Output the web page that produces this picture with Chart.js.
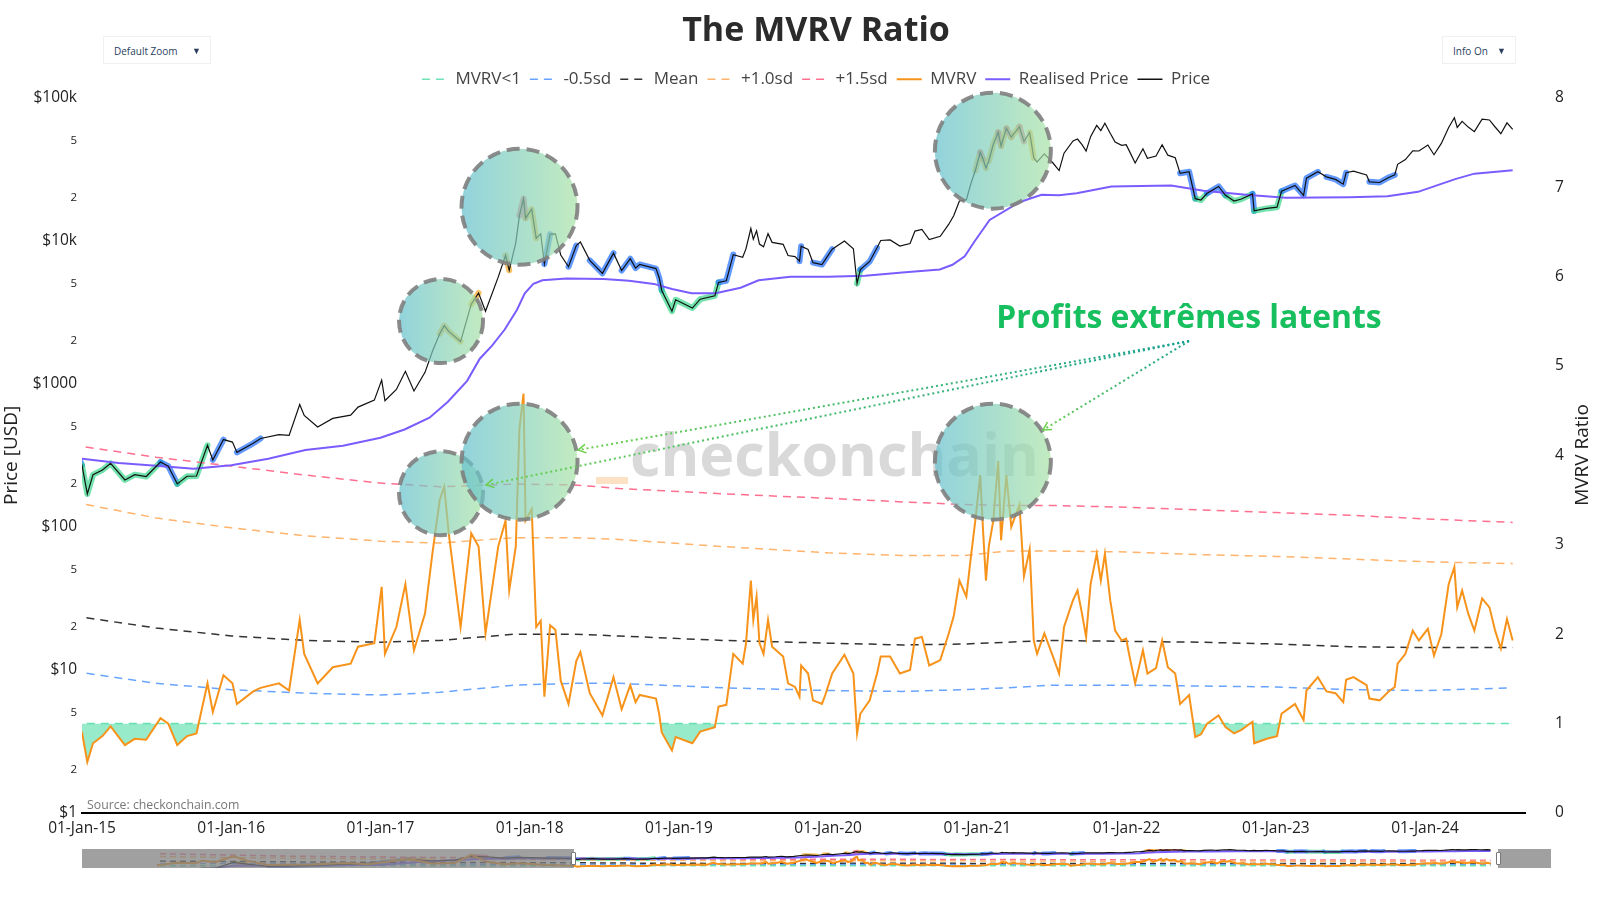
<!DOCTYPE html>
<html>
<head>
<meta charset="utf-8">
<title>The MVRV Ratio</title>
<script src="https://cdn.jsdelivr.net/npm/chart.js@4.4.1/dist/chart.umd.min.js"></script>
<style>
  body { margin: 0; background: #fff; font-family: "Open Sans", sans-serif; }
  #wrap { position: relative; width: 1600px; height: 900px; overflow: hidden; }
  #main { position: absolute; left: 0; top: 0; }
  #mini { position: absolute; left: 82px; top: 849px; }
  .shade { position: absolute; top: 849px; height: 19px; background: rgba(128,128,128,0.75); }
  .handle { position: absolute; top: 852px; width: 3px; height: 11px; background: #fff; border: 1px solid #777; border-radius: 1px; }
  .dd { position: absolute; top: 36px; height: 28px; line-height: 28px; font-size: 10px; color: #2a3f5f;
        background: #fff; border: 1px solid #f0f0f0; box-sizing: border-box; padding-left: 10px; }
  .dd span { position: absolute; right: 9px; top: 0; font-size: 9px; }
</style>
</head>
<body>
<div id="wrap">
  <canvas id="main" width="1600" height="900"></canvas>
  <canvas id="mini" width="1469" height="19"></canvas>
  <div class="shade" style="left:82px;width:492px"></div>
  <div class="shade" style="left:1498px;width:53px"></div>
  <div class="handle" style="left:571px"></div>
  <div class="handle" style="left:1496px"></div>
  <div class="dd" style="left:103px;width:108px">Default Zoom<span>▼</span></div>
  <div class="dd" style="left:1442px;width:74px">Info On<span>▼</span></div>
</div>
<script>
// ---- data (2010-2014 only shows in the range slider) ----
const dates = [
  "2010-08-20","2010-11-06","2011-01-15","2011-02-10","2011-04-01","2011-06-08","2011-08-01","2011-10-20","2011-12-15",
  "2012-04-01","2012-08-15","2012-11-01","2013-04-09","2013-07-05","2013-10-01","2013-12-04","2014-02-01","2014-04-10",
  "2014-06-05","2014-09-20","2014-12-15",
  "2015-01-01","2015-01-14","2015-01-28","2015-02-20","2015-03-12","2015-04-16","2015-05-10","2015-06-07","2015-07-12",
  "2015-07-31","2015-08-22","2015-09-15","2015-10-08","2015-11-04","2015-11-17","2015-12-13",
  "2016-01-04","2016-01-15","2016-02-24","2016-03-13","2016-04-27","2016-05-22","2016-06-17","2016-06-28","2016-07-31",
  "2016-09-06","2016-10-20","2016-11-07","2016-12-17",
  "2017-01-04","2017-01-12","2017-02-09","2017-03-03","2017-03-24","2017-04-20","2017-05-08","2017-05-26","2017-06-06",
  "2017-06-17","2017-07-16","2017-08-11","2017-08-29","2017-09-15","2017-10-16","2017-11-03","2017-11-12","2017-11-28",
  "2017-12-07","2017-12-17","2017-12-22",
  "2018-01-06","2018-01-17","2018-01-28","2018-02-06","2018-02-20","2018-03-05","2018-03-18","2018-04-06","2018-04-25",
  "2018-05-05","2018-05-28","2018-06-28","2018-07-25","2018-08-14","2018-09-04","2018-09-17","2018-09-27","2018-11-06",
  "2018-11-14","2018-11-20","2018-12-15","2018-12-24",
  "2019-02-03","2019-02-22","2019-03-30","2019-04-08","2019-04-27","2019-05-14","2019-06-06","2019-06-14","2019-06-26",
  "2019-07-02","2019-07-10","2019-07-17","2019-07-27","2019-08-07","2019-08-17","2019-09-13","2019-09-25","2019-10-12",
  "2019-10-23","2019-10-27","2019-11-13","2019-11-25","2019-12-17","2019-12-25",
  "2020-01-11","2020-02-10","2020-03-03","2020-03-12","2020-03-20","2020-04-12","2020-04-30","2020-05-09","2020-06-01",
  "2020-06-25","2020-07-20","2020-08-01","2020-08-18","2020-09-05","2020-10-02","2020-10-23","2020-11-04","2020-11-18",
  "2020-12-05","2020-12-16","2020-12-27",
  "2021-01-08","2021-01-15","2021-01-22","2021-01-29","2021-02-09","2021-02-21","2021-02-28","2021-03-13","2021-03-25",
  "2021-04-14","2021-04-25","2021-05-09","2021-05-19","2021-05-27","2021-06-14","2021-07-05","2021-07-20","2021-08-01",
  "2021-08-23","2021-09-03","2021-09-14","2021-09-24","2021-10-05","2021-10-20","2021-10-30","2021-11-09","2021-11-22",
  "2021-12-04","2021-12-20","2021-12-31",
  "2022-01-07","2022-01-22","2022-02-10","2022-02-21","2022-03-14","2022-03-29","2022-04-12","2022-04-30","2022-05-12",
  "2022-06-03","2022-06-18","2022-07-02","2022-07-17","2022-08-14","2022-08-31","2022-09-21","2022-10-09","2022-11-05",
  "2022-11-09","2022-12-10",
  "2023-01-04","2023-01-15","2023-02-02","2023-02-17","2023-03-10","2023-03-17","2023-04-14","2023-05-05","2023-05-27",
  "2023-06-15","2023-06-22","2023-07-10","2023-08-11","2023-08-18","2023-09-12","2023-10-04","2023-10-19","2023-10-26",
  "2023-11-14","2023-12-02","2023-12-17",
  "2024-01-08","2024-01-23","2024-02-10","2024-02-28","2024-03-13","2024-03-20","2024-04-01","2024-04-16","2024-05-01",
  "2024-05-20","2024-06-07","2024-06-21","2024-07-05","2024-07-20","2024-08-03"
];

const mvrv = [
  1.2,2.2,2.0,3.0,2.4,5.0,3.0,1.3,1.4,
  1.5,2.1,1.6,3.8,1.9,2.1,5.5,2.6,1.6,
  2.0,1.3,1.0,
  0.90,0.57,0.78,0.86,0.97,0.76,0.83,0.82,1.06,
  1.00,0.76,0.86,0.89,1.45,1.13,1.54,
  1.45,1.22,1.36,1.40,1.45,1.37,2.16,1.78,1.45,
  1.63,1.67,1.86,1.90,
  2.53,1.78,2.08,2.56,1.82,2.23,2.90,3.50,3.65,
  3.13,2.08,3.13,2.98,2.01,2.98,3.27,2.49,2.98,
  4.30,4.69,3.27,
  3.40,2.08,2.15,1.30,2.10,2.05,1.48,1.22,1.70,
  1.80,1.34,1.09,1.52,1.16,1.43,1.24,1.32,1.28,
  1.10,0.90,0.70,0.85,
  0.78,0.91,0.96,1.19,1.21,1.78,1.67,1.89,2.60,
  2.16,2.42,1.90,1.78,2.16,1.86,1.75,1.45,1.41,
  1.30,1.65,1.56,1.26,1.22,1.32,
  1.56,1.77,1.56,0.89,1.11,1.26,1.56,1.75,1.75,
  1.56,1.60,1.95,1.97,1.65,1.71,2.01,2.20,2.60,
  2.42,2.86,3.27,
  3.78,3.16,2.60,2.98,3.27,3.94,3.05,3.78,3.20,
  3.45,2.65,2.95,1.93,1.78,2.01,1.75,1.56,2.08,
  2.38,2.49,2.23,1.97,2.56,2.90,2.60,2.90,2.38,
  2.04,1.93,1.95,
  1.78,1.45,1.82,1.56,1.62,1.93,1.63,1.56,1.22,
  1.32,0.85,0.88,1.00,1.09,0.96,0.89,0.93,1.02,
  0.78,0.83,
  0.86,1.11,1.17,1.22,1.04,1.37,1.52,1.36,1.34,
  1.24,1.49,1.52,1.43,1.28,1.26,1.36,1.41,1.67,
  1.78,2.04,1.93,
  2.06,1.76,2.00,2.56,2.75,2.30,2.49,2.23,2.04,
  2.40,2.30,2.04,1.84,2.17,1.93
];

const price = [
  0.07,0.3,0.4,1.0,0.8,29,11,2.5,3.0,
  5,11,10,230,70,125,1150,850,380,
  650,400,350,
  270,170,232,250,278,213,232,225,284,
  266,200,226,227,372,294,408,
  392,332,384,415,442,436,717,602,500,
  574,605,688,770,
  1063,762,915,1224,892,1204,1682,2240,2555,
  2330,1976,3600,4321,3216,5573,7913,6225,9685,
  15050,19700,14400,
  16660,10400,11180,6890,11130,11170,7960,6590,9270,
  9810,7300,5920,8200,6200,7500,6450,6840,6400,
  5500,4500,3220,3870,
  3390,3910,4130,5120,5260,8010,7680,8790,12200,
  10260,11740,9500,9080,11230,9760,9450,7900,7760,
  7215,9170,8700,7040,6830,7390,
  8750,9970,8810,5040,6290,7180,8940,10060,10150,
  9200,9570,11700,12000,10200,10760,13070,14960,18980,
  19360,25000,31000,
  41580,37290,32240,36000,47400,57500,46000,61200,53000,
  62800,49550,57200,38000,35600,40600,35000,31000,41000,
  49980,51500,47000,42400,53500,64090,59000,66500,56500,
  49000,46500,47000,
  42900,35000,44000,37750,39200,46900,39700,38060,29650,
  30400,19720,19300,21500,24000,20800,18960,19600,21300,
  16200,16850,
  17200,22200,23400,24400,20800,27400,30400,28000,26900,
  24900,29950,30700,28900,25860,25580,27740,28900,34300,
  37000,42500,42460,
  46760,40000,48000,62000,72500,62000,68500,62400,58000,
  70800,70000,62500,56100,66800,60200
];

const rpDates = [
  "2010-08-20","2011-01-01","2011-06-15","2012-01-01","2012-07-01","2013-01-01","2013-06-01","2014-01-01","2014-06-01",
  "2015-01-01","2015-04-01","2015-07-01","2015-10-01","2016-01-01","2016-04-01","2016-07-01","2016-10-01","2017-01-01",
  "2017-03-01","2017-05-01","2017-06-15","2017-08-01","2017-09-01","2017-10-01","2017-11-01","2017-12-01","2017-12-20",
  "2018-01-10","2018-02-01","2018-04-01","2018-07-01","2018-09-01","2018-11-01","2018-12-15","2019-02-01","2019-04-01",
  "2019-06-01","2019-07-15","2019-10-01","2020-01-01","2020-04-01","2020-07-01","2020-10-01","2020-11-01","2020-12-01",
  "2020-12-25","2021-01-31","2021-04-15","2021-06-07","2021-07-20","2021-09-01","2021-11-25","2022-04-20","2022-07-08",
  "2022-10-20","2023-01-25","2023-07-01","2023-10-01","2023-12-15","2024-02-01","2024-03-15","2024-05-01","2024-08-03"
];
const realisedPrice = [
  0.06,0.18,4.5,4.2,5.0,7,45,230,330,
  300,280,268,255,270,300,345,370,420,
  480,580,750,1050,1500,1850,2400,3300,4300,
  5000,5300,5450,5400,5250,5000,4600,4300,4300,
  4700,5300,5600,5600,5700,6000,6300,6800,7800,
  9900,14000,18700,21000,20800,21500,24000,24400,22400,
  21000,20000,20200,20500,22000,24500,27000,29500,31200
];

const bandDates = [
  "2010-09-01","2012-01-01","2013-01-01","2014-01-01","2015-01-01","2015-07-01","2016-01-01","2016-07-01","2017-01-01",
  "2017-05-26","2017-11-25","2018-04-20","2018-08-08","2019-04-20","2020-01-01","2020-07-01","2020-12-01","2021-03-15",
  "2021-07-01","2022-01-01","2022-07-01","2023-01-01","2023-07-01","2024-01-01","2024-08-03"
];
const mvrvOne   = [1,1,1,1,1,1,1,1,1,1,1,1,1,1,1,1,1,1,1,1,1,1,1,1,1];
const sdMinus05 = [1.9,1.8,1.7,1.63,1.57,1.45,1.38,1.34,1.32,1.35,1.43,1.45,1.45,1.40,1.37,1.36,1.38,1.40,1.43,1.43,1.42,1.41,1.38,1.37,1.40];
const meanBand  = [2.9,2.6,2.4,2.3,2.19,2.07,1.98,1.93,1.91,1.93,2.00,2.00,1.98,1.93,1.90,1.88,1.89,1.91,1.93,1.92,1.91,1.89,1.86,1.85,1.85];
const sdPlus10  = [4.8,4.1,3.8,3.6,3.46,3.30,3.19,3.10,3.04,3.02,3.08,3.08,3.06,2.98,2.91,2.88,2.88,2.93,2.93,2.92,2.89,2.87,2.84,2.81,2.79];
const sdPlus15  = [6.0,5.0,4.6,4.3,4.10,3.98,3.88,3.78,3.69,3.65,3.68,3.67,3.63,3.57,3.52,3.48,3.45,3.44,3.44,3.42,3.39,3.36,3.33,3.29,3.25];

const yearTicks = [2015,2016,2017,2018,2019,2020,2021,2022,2023,2024];
const priceTicks = [1,2,5,10,20,50,100,200,500,1000,2000,5000,10000,20000,50000,100000];
const priceMajor = { 1: "$1", 10: "$10", 100: "$100", 1000: "$1000", 10000: "$10k", 100000: "$100k" };

// ---- helpers ----
const FONT = '"Open Sans", "DejaVu Sans", sans-serif';

const toYear = (s) => {
    const [y, m, d] = s.split("-").map(Number);
    const t0 = Date.UTC(y, 0, 1);
    const t1 = Date.UTC(y + 1, 0, 1);
    return y + (Date.UTC(y, m - 1, d) - t0) / (t1 - t0);
};

const years = dates.map(toYear);
const rpYears = rpDates.map(toYear);
const bandYears = bandDates.map(toYear);

const bandAt = (arr, t) => {
    if (t <= bandYears[0]) return arr[0];
    for (let i = 1; i < bandYears.length; i++) {
        if (t <= bandYears[i]) {
            const f = (t - bandYears[i - 1]) / (bandYears[i] - bandYears[i - 1]);
            return arr[i - 1] + f * (arr[i] - arr[i - 1]);
        }
    }
    return arr[arr.length - 1];
};

// colour of the highlight under the price line, from the MVRV zone
const glowColor = (i) => {
    const m = mvrv[i];
    const t = years[i];
    if (m < 1) return "rgba(40,212,130,0.65)";
    if (m < bandAt(sdMinus05, t)) return "rgba(30,110,255,0.7)";
    if (m > bandAt(sdPlus15, t)) return "rgba(236,84,120,0.7)";
    if (m > bandAt(sdPlus10, t)) return "rgba(245,170,40,0.7)";
    return "rgba(0,0,0,0)";
};

const pts = (xs, ys) => xs.map((x, i) => ({ x, y: ys[i] }));

function buildDatasets(mini) {
    const band = (label, arr, color) => ({
        label,
        data: pts(bandYears, arr),
        yAxisID: "yM",
        borderColor: color,
        borderWidth: 1.5,
        borderDash: mini ? [6, 4] : [8, 6],
        pointRadius: 0,
        order: 8,
    });
    return [
        band("MVRV<1", mvrvOne, "#6fe3b6"),
        band("-0.5sd", sdMinus05, "#68a4ff"),
        band("Mean", meanBand, "#333333"),
        band("+1.0sd", sdPlus10, "#ffb36b"),
        band("+1.5sd", sdPlus15, "#ff6f90"),
        {
            label: "MVRV",
            data: pts(years, mvrv),
            yAxisID: "yM",
            borderColor: "#f7931a",
            borderWidth: 2,
            pointRadius: 0,
            fill: { target: { value: 1 }, above: "rgba(0,0,0,0)", below: "rgba(48,214,150,0.5)" },
            order: 3,
        },
        {
            label: "Realised Price",
            data: pts(rpYears, realisedPrice),
            yAxisID: "yP",
            borderColor: "#7a5cff",
            borderWidth: 2,
            pointRadius: 0,
            order: 5,
        },
        {
            label: "Price",
            data: pts(years, price),
            yAxisID: "yP",
            borderColor: "#111111",
            borderWidth: 1.2,
            pointRadius: 0,
            order: 4,
        },
        {
            label: "glow",
            data: pts(years, price),
            yAxisID: "yP",
            borderColor: "rgba(0,0,0,0)",
            borderWidth: mini ? 4 : 6,
            borderCapStyle: "round",
            borderJoinStyle: "round",
            pointRadius: 0,
            segment: { borderColor: (ctx) => glowColor(ctx.p0DataIndex) },
            order: 9,
        },
    ];
}

// ---- annotations: circles, watermark, note text ----
const circles = [
    { x: 2017.406, y: 2750, axis: "yP", r: 42 },
    { x: 2017.932, y: 17300, axis: "yP", r: 58 },
    { x: 2021.104, y: 42700, axis: "yP", r: 58 },
    { x: 2017.406, y: 3.577, axis: "yM", r: 42 },
    { x: 2017.932, y: 3.93, axis: "yM", r: 58 },
    { x: 2021.104, y: 3.93, axis: "yM", r: 58 },
];

const fitFont = (ctx, text, weight, width) => {
    ctx.font = `${weight} 50px ${FONT}`;
    const size = (50 * width) / ctx.measureText(text).width;
    return `${weight} ${size.toFixed(1)}px ${FONT}`;
};

// title and legend sit a little right of the canvas centre
const headerShift = {
    id: "headerShift",
    afterLayout(chart) {
        [chart.titleBlock, chart.legend].forEach((b) => {
            if (b) {
                b.left += 16;
                b.right += 16;
            }
        });
    },
};

const decorations = {
    id: "decorations",
    beforeDatasetsDraw(chart) {
        const ctx = chart.ctx;
        ctx.save();
        ctx.fillStyle = "rgba(252,200,150,0.55)";
        ctx.fillRect(596, 477, 32, 7);
        ctx.font = fitFont(ctx, "checkonchain", "bold", 409);
        ctx.fillStyle = "rgba(185,185,185,0.55)";
        ctx.textAlign = "left";
        ctx.textBaseline = "alphabetic";
        ctx.fillText("checkonchain", 630, 476);
        ctx.restore();
    },
    afterDatasetsDraw(chart) {
        const ctx = chart.ctx;
        const x = chart.scales.x;
        ctx.save();
        circles.forEach((c) => {
            const cx = x.getPixelForValue(c.x);
            const cy = chart.scales[c.axis].getPixelForValue(c.y);
            const g = ctx.createLinearGradient(cx - c.r, 0, cx + c.r, 0);
            g.addColorStop(0, "rgba(99,192,205,0.7)");
            g.addColorStop(1, "rgba(168,226,165,0.7)");
            ctx.beginPath();
            ctx.arc(cx, cy, c.r, 0, Math.PI * 2);
            ctx.fillStyle = g;
            ctx.fill();
            ctx.setLineDash([13, 7]);
            ctx.lineWidth = 4;
            ctx.strokeStyle = "rgba(128,128,128,0.9)";
            ctx.stroke();
        });
        ctx.restore();
    },
    afterDraw(chart) {
        const ctx = chart.ctx;
        ctx.save();
        // note text
        ctx.font = fitFont(ctx, "Profits extrêmes latents", "bold", 385);
        ctx.fillStyle = "#17bf5f";
        ctx.textAlign = "center";
        ctx.textBaseline = "middle";
        ctx.fillText("Profits extrêmes latents", 1189, 319);

        // dotted arrows
        const from = { x: 1189, y: 341 };
        const targets = [
            { x: 578, y: 450 },
            { x: 486, y: 485 },
            { x: 1043, y: 430 },
        ];
        targets.forEach((t) => {
            const g = ctx.createLinearGradient(from.x, from.y, t.x, t.y);
            g.addColorStop(0, "#139f90");
            g.addColorStop(1, "#6ad04c");
            ctx.strokeStyle = g;
            ctx.lineWidth = 2;
            ctx.setLineDash([2, 3]);
            ctx.beginPath();
            ctx.moveTo(from.x, from.y);
            ctx.lineTo(t.x, t.y);
            ctx.stroke();
            const a = Math.atan2(from.y - t.y, from.x - t.x);
            ctx.setLineDash([]);
            ctx.strokeStyle = "#6ad04c";
            ctx.lineWidth = 1.5;
            ctx.beginPath();
            ctx.moveTo(t.x + 9 * Math.cos(a + 0.5), t.y + 9 * Math.sin(a + 0.5));
            ctx.lineTo(t.x, t.y);
            ctx.lineTo(t.x + 9 * Math.cos(a - 0.5), t.y + 9 * Math.sin(a - 0.5));
            ctx.stroke();
        });

        // source
        ctx.font = `12.3px ${FONT}`;
        ctx.fillStyle = "#777";
        ctx.textAlign = "left";
        ctx.fillText("Source: checkonchain.com", 87, 805);

        // right axis title, reads bottom to top
        ctx.translate(1583, 455);
        ctx.rotate(-Math.PI / 2);
        ctx.font = `19px ${FONT}`;
        ctx.fillStyle = "#222";
        ctx.textAlign = "center";
        ctx.fillText("MVRV Ratio", 0, 0);
        ctx.restore();
    },
};

const defaultLabels = Chart.defaults.plugins.legend.labels.generateLabels;

// ---- main chart ----
new Chart(document.getElementById("main"), {
    type: "line",
    data: { datasets: buildDatasets(false) },
    plugins: [headerShift, decorations],
    options: {
        responsive: false,
        animation: false,
        devicePixelRatio: 1,
        layout: { padding: { left: 0, right: 0, top: 0, bottom: 0 } },
        plugins: {
            title: {
                display: true,
                text: "The MVRV Ratio",
                color: "#2b2b2b",
                font: { family: FONT, size: 34, weight: "bold" },
                padding: { top: 11, bottom: 10 },
            },
            legend: {
                display: true,
                labels: {
                    usePointStyle: true,
                    pointStyle: "line",
                    pointStyleWidth: 25,
                    boxHeight: 10,
                    color: "#444",
                    padding: 9,
                    font: { family: FONT, size: 17 },
                    generateLabels: (chart) =>
                        defaultLabels(chart).map((item) => {
                            const ds = chart.data.datasets[item.datasetIndex];
                            return {
                                ...item,
                                lineDash: ds.borderDash || [],
                                strokeStyle: ds.borderColor,
                                lineWidth: Math.max(ds.borderWidth, 1.6),
                            };
                        }),
                    filter: (item) => item.text !== "glow",
                    sort: (a, b) => a.datasetIndex - b.datasetIndex,
                },
            },
            tooltip: { enabled: false },
        },
        scales: {
            x: {
                type: "linear",
                min: 2015,
                max: 2024.67,
                afterBuildTicks: (scale) => {
                    scale.ticks = yearTicks.map((v) => ({ value: v }));
                },
                afterFit: (scale) => {
                    scale.height = 87;
                },
                grid: { display: false, drawTicks: false },
                border: { display: true, color: "#000", width: 2 },
                ticks: {
                    autoSkip: false,
                    maxRotation: 0,
                    padding: 6,
                    color: "#222",
                    font: { family: FONT, size: 15.5 },
                    callback: (v) => "01-Jan-" + String(v).slice(2),
                },
            },
            yP: {
                type: "logarithmic",
                position: "left",
                min: 1,
                max: 100000,
                afterBuildTicks: (scale) => {
                    scale.ticks = priceTicks.map((v) => ({ value: v }));
                },
                afterFit: (scale) => {
                    scale.width = 82;
                },
                grid: { display: false, drawTicks: false },
                border: { display: false },
                title: {
                    display: true,
                    text: "Price [USD]",
                    color: "#222",
                    font: { family: FONT, size: 19 },
                    padding: { top: 0, bottom: 0 },
                },
                ticks: {
                    padding: 5,
                    color: "#222",
                    font: (ctx) => ({ family: FONT, size: priceMajor[ctx.tick && ctx.tick.value] ? 15.5 : 11.5 }),
                    callback: (v) => priceMajor[v] || String(v)[0],
                },
            },
            yM: {
                type: "linear",
                position: "right",
                min: 0,
                max: 8,
                afterFit: (scale) => {
                    scale.width = 75;
                },
                grid: { display: false, drawTicks: false },
                border: { display: false },
                ticks: {
                    stepSize: 1,
                    padding: 30,
                    color: "#222",
                    font: { family: FONT, size: 15.5 },
                },
            },
        },
    },
});

// ---- range slider preview ----
new Chart(document.getElementById("mini"), {
    type: "line",
    data: { datasets: buildDatasets(true) },
    options: {
        responsive: false,
        animation: false,
        devicePixelRatio: 1,
        layout: { padding: 0 },
        plugins: { legend: { display: false }, title: { display: false }, tooltip: { enabled: false } },
        scales: {
            x: { type: "linear", display: false, min: 2009.85, max: 2025.22 },
            yP: { type: "logarithmic", display: false, min: 1, max: 100000 },
            yM: { type: "linear", display: false, min: 0, max: 8 },
        },
    },
});
</script>
</body>
</html>
